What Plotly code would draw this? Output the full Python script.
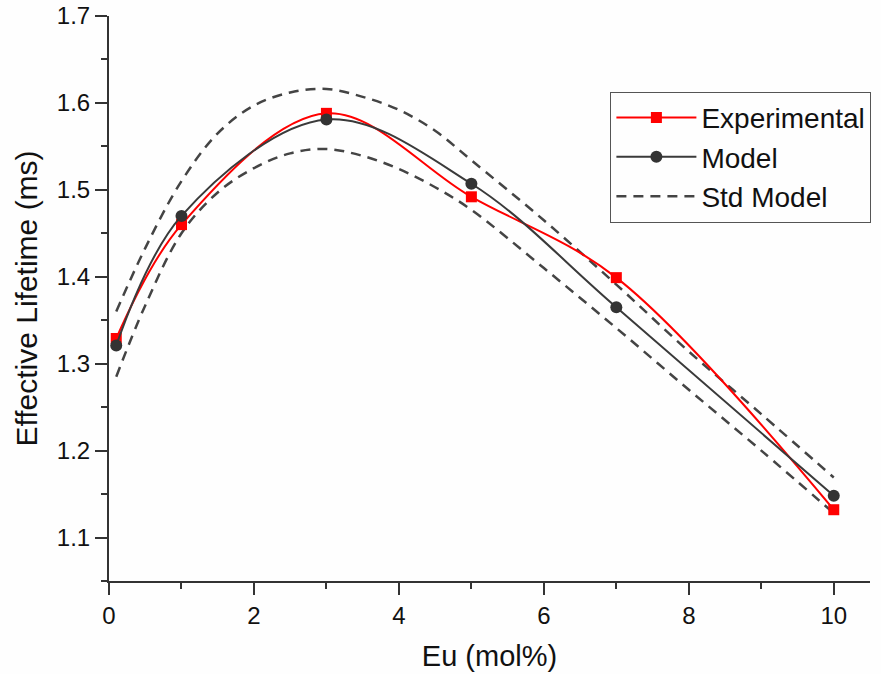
import plotly.graph_objects as go

# Data
eu = [0.1, 1, 3, 5, 7, 10]
experimental = [1.329, 1.460, 1.588, 1.492, 1.399, 1.132]
model = [1.321, 1.470, 1.581, 1.507, 1.365, 1.148]

std_x = [0.1, 0.5, 1.0, 1.5, 2.0, 2.5, 3.0, 3.5, 4.0, 4.5, 5.0, 6, 7, 8, 9, 10]
std_upper = [1.360, 1.433, 1.510, 1.565, 1.597, 1.612, 1.616, 1.607, 1.592, 1.568, 1.534,
             1.465, 1.391, 1.314, 1.242, 1.169]
std_lower = [1.285, 1.367, 1.450, 1.497, 1.525, 1.542, 1.547, 1.539, 1.524, 1.503, 1.477,
             1.410, 1.341, 1.270, 1.200, 1.128]

FONT = "Liberation Sans, Arial, sans-serif"
AX = "#333333"
TXT = "#111111"
DASH = "10px,7px"

fig = go.Figure()
fig.add_trace(go.Scatter(
    x=std_x, y=std_upper, mode="lines", name="Std Model", legendgroup="std",
    showlegend=True, legendrank=3,
    line=dict(color="#444444", width=2.5, dash=DASH, shape="spline")))
fig.add_trace(go.Scatter(
    x=std_x, y=std_lower, mode="lines", name="Std Model", legendgroup="std",
    showlegend=False,
    line=dict(color="#444444", width=2.5, dash=DASH, shape="spline")))
fig.add_trace(go.Scatter(
    x=eu, y=experimental, mode="lines+markers", name="Experimental", legendrank=1,
    line=dict(color="#ff0000", width=2, shape="spline"),
    marker=dict(symbol="square", size=11, color="#ff0000")))
fig.add_trace(go.Scatter(
    x=eu, y=model, mode="lines+markers", name="Model", legendrank=2,
    line=dict(color="#3a3a3a", width=2, shape="spline"),
    marker=dict(symbol="circle", size=12, color="#333333")))

fig.update_layout(
    width=881, height=674,
    margin=dict(l=109, r=10, t=16, b=93),
    paper_bgcolor="#fefefe", plot_bgcolor="#fefefe",
    font=dict(family=FONT, color=TXT),
    legend=dict(
        x=0.658, y=0.866, xanchor="left", yanchor="top",
        bgcolor="rgba(255,255,255,0)", bordercolor="#555555", borderwidth=1,
        font=dict(size=28, family=FONT, color=TXT),
        itemwidth=80, tracegroupgap=0,
    ),
)

fig.update_xaxes(
    range=[0, 10.5], showgrid=False, zeroline=False, automargin=False,
    showline=True, linecolor=AX, linewidth=2,
    ticks="outside", ticklen=12, tickwidth=2, tickcolor=AX,
    tick0=0, dtick=2,
    minor=dict(ticks="outside", ticklen=6, tickwidth=2, tickcolor=AX, dtick=1, showgrid=False),
    tickfont=dict(size=24, family=FONT, color=TXT),
    title=dict(text="Eu (mol%)", font=dict(size=29, family=FONT, color=TXT), standoff=18),
)
fig.update_yaxes(
    range=[1.05, 1.7], showgrid=False, zeroline=False, automargin=False,
    showline=True, linecolor=AX, linewidth=2, ticklabeloverflow="allow",
    ticks="outside", ticklen=12, tickwidth=2, tickcolor=AX,
    tick0=1.1, dtick=0.1, tickformat=".1f",
    minor=dict(ticks="outside", ticklen=6, tickwidth=2, tickcolor=AX, dtick=0.05, tick0=1.05, showgrid=False),
    tickfont=dict(size=24, family=FONT, color=TXT),
    title=dict(text="Effective Lifetime (ms)", font=dict(size=30, family=FONT, color=TXT), standoff=10),
)

# remove the default 8px page margin so the figure fills the window exactly
fig.write_html("out.html", config={"displayModeBar": False},
               post_script="document.body.style.margin='0';")
